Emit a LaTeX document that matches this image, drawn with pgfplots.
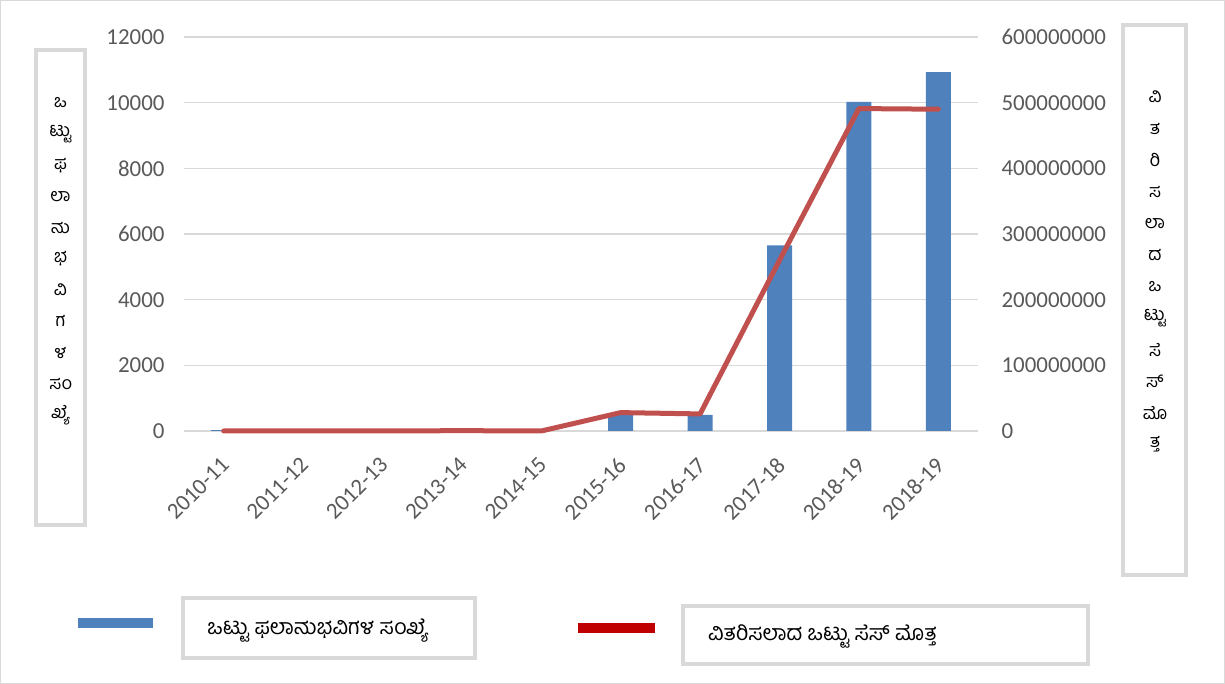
\documentclass[border=0pt]{standalone}
\usepackage{pgfplots}
\pgfplotsset{compat=1.18}
\usepackage{fontspec}
\setmainfont{Carlito}
\newfontfamily\kn[Script=Kannada]{Hind Mysuru}
\definecolor{barblue}{HTML}{4F81BD}
\definecolor{linered}{HTML}{C0504D}
\definecolor{legred}{HTML}{C00000}
\definecolor{tickgray}{HTML}{595959}
\definecolor{gridgray}{HTML}{D9D9D9}
\begin{document}
\begin{tikzpicture}[x=1bp,y=1bp]
% outer border
\draw[gridgray, line width=1bp] (0.5,0.5) rectangle (1224.5,683.5);
\begin{axis}[
  at={(184bp,253bp)}, anchor=south west,
  scale only axis, width=794bp, height=394bp,
  xmin=-0.5, xmax=9.5, ymin=0, ymax=12000,
  ytick={0,2000,...,12000},
  xtick={0,...,9},
  xticklabels={2010-11,2011-12,2012-13,2013-14,2014-15,2015-16,2016-17,2017-18,2018-19,2018-19},
  ymajorgrids, grid style={draw=gridgray, line width=1.2bp},
  axis x line*=bottom, axis y line*=left,
  x axis line style={draw=gridgray, line width=1.5bp, -},
  y axis line style={draw=none},
  major tick length=0pt,
  /pgf/number format/assume math mode=true,
  scaled y ticks=false,
  tick label style={font=\fontsize{23}{25}\selectfont, text=tickgray},
  yticklabel style={/pgf/number format/fixed, /pgf/number format/set thousands separator={}, xshift=-16bp},
  xticklabel style={xshift=-4bp, yshift=-20bp, rotate=45, anchor=north east},
  clip=false,
]
\addplot[ybar, bar width=25bp, fill=barblue, draw=none] coordinates {
(0,30) (1,0) (2,0) (3,0) (4,0) (5,490) (6,490) (7,5650) (8,10020) (9,10930)};
\end{axis}
\begin{axis}[
  at={(184bp,253bp)}, anchor=south west,
  scale only axis, width=794bp, height=394bp,
  xmin=-0.5, xmax=9.5, ymin=0, ymax=600000000,
  ytick={0,100000000,...,600000000},
  axis y line*=right, axis x line=none,
  y axis line style={draw=none},
  major tick length=0pt,
  /pgf/number format/assume math mode=true,
  scaled y ticks=false,
  tick label style={font=\fontsize{23}{25}\selectfont, text=tickgray},
  yticklabel style={/pgf/number format/fixed, /pgf/number format/set thousands separator={}, xshift=20bp},
  clip=false,
]
\addplot[linered, line width=5bp, line join=round, line cap=round] coordinates {
(0,0) (1,0) (2,0) (3,500000) (4,0) (5,28000000) (6,26000000) (7,260000000) (8,491000000) (9,490000000)};
\end{axis}
% y label boxes
\draw[gridgray, line width=4bp] (36,159) rectangle (85,634);
\draw[gridgray, line width=4bp] (1123,109) rectangle (1186,659);
\foreach \t [count=\i from 0] in {ಒ,ಟ್ಟು,ಫ,ಲಾ,ನು,ಭ,ವಿ,ಗ,ಳ,ಸಂ,ಖ್ಯೆ}
  \node[font=\kn\fontsize{18}{19}\selectfont, inner sep=0pt] at (60.5,{684-103-31.2*\i}) {\t};
\foreach \t [count=\i from 0] in {ವಿ,ತ,ರಿ,ಸ,ಲಾ,ದ,ಒ,ಟ್ಟು,ಸೆ,ಸ್,ಮೊ,ತ್ತ}
  \node[font=\kn\fontsize{18}{19}\selectfont, inner sep=0pt] at (1155,{684-97-31.6*\i}) {\t};
% legend
\draw[barblue, line width=10bp] (78,61) -- (153,61);
\draw[gridgray, line width=4bp] (183,26) rectangle (475,86);
\node[font=\kn\fontsize{21.5}{23}\selectfont, anchor=west, inner sep=0pt] at (207,53) {ಒಟ್ಟು ಫಲಾನುಭವಿಗಳ ಸಂಖ್ಯೆ};
\draw[legred, line width=10bp] (578,56) -- (655,56);
\draw[gridgray, line width=4bp] (683,20) rectangle (1088,78);
\node[font=\kn\fontsize{21.5}{23}\selectfont, anchor=west, inner sep=0pt] at (708,48) {ವಿತರಿಸಲಾದ ಒಟ್ಟು ಸೆಸ್ ಮೊತ್ತ};
\end{tikzpicture}
\end{document}
